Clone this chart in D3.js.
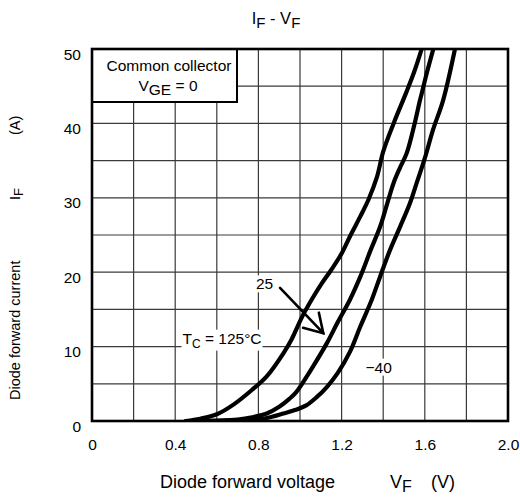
<!DOCTYPE html>
<html><head><meta charset="utf-8">
<script src="https://cdn.jsdelivr.net/npm/d3@7/dist/d3.min.js"></script>
<style>
body{margin:0;background:#fff}
svg{display:block}
text{font-family:Arial,"Liberation Sans",sans-serif;fill:#000}
</style>
</head><body>
<svg id="c" width="520" height="501"></svg>
<script>
// ---- data ----
const xTickValues = [0, 0.4, 0.8, 1.2, 1.6, 2.0];
const xTickLabels = ["0", "0.4", "0.8", "1.2", "1.6", "2.0"];
const yTickValues = [0, 10, 20, 30, 40, 50];
const yTickLabels = ["0", "10", "20", "30", "40", "50"];
const xGridValues = [0.2, 0.4, 0.6, 0.8, 1.0, 1.2, 1.4, 1.6, 1.8];
const yGridValues = [5, 10, 15, 20, 25, 30, 35, 40, 45];

const seriesNames = ["125", "25", "-40"];
const vf125 = [0.45, 0.52, 0.60, 0.68, 0.77, 0.84, 0.92, 0.96, 1.01, 1.06, 1.10, 1.15, 1.20, 1.24, 1.29, 1.33, 1.37, 1.40, 1.45, 1.51, 1.55, 1.585];
const if125 = [0.0, 0.3, 0.9, 2.2, 4.2, 6.0, 9.1, 11.0, 14.0, 16.5, 18.3, 20.3, 22.5, 24.8, 27.5, 29.8, 32.8, 36.2, 40.0, 44.1, 47.0, 50];
const vf25 = [0.50, 0.60, 0.70, 0.77, 0.84, 0.90, 0.95, 0.98, 1.01, 1.06, 1.13, 1.18, 1.24, 1.29, 1.34, 1.385, 1.42, 1.45, 1.48, 1.513, 1.553, 1.575, 1.585, 1.609, 1.641];
const if25 = [0.0, 0.05, 0.2, 0.5, 1.0, 1.9, 3.0, 3.8, 5.0, 7.2, 10.5, 13.2, 16.3, 19.4, 23.0, 26.1, 29.3, 32.0, 34.0, 36.0, 40.2, 42.9, 44.0, 46.7, 50];
const vfm40 = [0.55, 0.65, 0.75, 0.84, 0.92, 0.98, 1.03, 1.08, 1.13, 1.18, 1.24, 1.29, 1.345, 1.385, 1.433, 1.481, 1.529, 1.561, 1.601, 1.639, 1.688, 1.745];
const ifm40 = [0.0, 0.05, 0.15, 0.4, 1.0, 1.5, 2.1, 3.2, 4.6, 6.4, 9.3, 12.7, 16.3, 19.4, 23.0, 26.1, 29.3, 32.0, 35.4, 39.1, 43.1, 50];

// annotations (data units)
const arrowFrom = [0.904, 17.9];
const arrowTo = [1.112, 11.8];
const label25 = [0.788, 17.7];
const label125 = [0.435, 10.4];
const labelM40 = [1.315, 6.5];

// ---- layout ----
const svg = d3.select("#c");
const x = d3.scaleLinear().domain([0, 2]).range([92, 508]);
const y = d3.scaleLinear().domain([0, 50]).range([421, 49]);

svg.append("defs").append("clipPath").attr("id", "clip")
  .append("rect").attr("x", x(0)).attr("y", y(50)).attr("width", x(2) - x(0)).attr("height", y(0) - y(50));

// grid
const grid = svg.append("g").attr("stroke", "#3a3a3a").attr("stroke-width", 1.2);
grid.selectAll(".vg").data(xGridValues).join("line")
  .attr("x1", d => x(d)).attr("x2", d => x(d)).attr("y1", y(0)).attr("y2", y(50));
grid.selectAll(".hg").data(yGridValues).join("line")
  .attr("x1", x(0)).attr("x2", x(2)).attr("y1", d => y(d)).attr("y2", d => y(d));

// axes tick labels via d3 axes (lines hidden)
const xAxis = d3.axisBottom(x).tickValues(xTickValues).tickFormat((d, i) => xTickLabels[i]).tickSize(0).tickPadding(0);
const gx = svg.append("g").attr("transform", `translate(0,${y(0)})`).call(xAxis);
gx.select(".domain").remove();
gx.selectAll("text").attr("font-size", 15.5).attr("font-family", "Arial, 'Liberation Sans', sans-serif").attr("dy", "1.9em").attr("fill", "#000");

const yAxis = d3.axisLeft(y).tickValues(yTickValues).tickFormat((d, i) => yTickLabels[i]).tickSize(0).tickPadding(11);
const gy = svg.append("g").attr("transform", `translate(${x(0)},0)`).call(yAxis);
gy.select(".domain").remove();
gy.selectAll("text").attr("font-size", 15.5).attr("font-family", "Arial, 'Liberation Sans', sans-serif").attr("dy", "0.65em").attr("fill", "#000");

// curves
const line = d3.line().x(d => x(d[0])).y(d => y(d[1])).curve(d3.curveCatmullRom.alpha(0.5));
const series = [
  vf125.map((v, i) => [v, if125[i]]),
  vf25.map((v, i) => [v, if25[i]]),
  vfm40.map((v, i) => [v, ifm40[i]])
];
svg.append("g").attr("clip-path", "url(#clip)")
  .selectAll("path").data(series).join("path")
  .attr("d", line).attr("fill", "none").attr("stroke", "#000")
  .attr("stroke-width", 4.2).attr("stroke-linejoin", "round").attr("stroke-linecap", "round");

// legend box
const lg = svg.append("g");
lg.append("rect").attr("x", x(0)).attr("y", y(50)).attr("width", 145).attr("height", 53)
  .attr("fill", "#fff").attr("stroke", "#000").attr("stroke-width", 2);
lg.append("text").attr("x", x(0) + 77).attr("y", y(50) + 22).attr("text-anchor", "middle")
  .attr("font-size", 15.5).text("Common collector");
const t2 = lg.append("text").attr("x", x(0) + 76).attr("y", y(50) + 42).attr("text-anchor", "middle").attr("font-size", 15.5);
t2.append("tspan").text("V");
t2.append("tspan").attr("dy", 4).attr("font-size", 15.5).text("GE");
t2.append("tspan").attr("dy", -4).text(" = 0");

// frame
svg.append("rect").attr("x", x(0)).attr("y", y(50)).attr("width", x(2) - x(0)).attr("height", y(0) - y(50))
  .attr("fill", "none").attr("stroke", "#000").attr("stroke-width", 2.6);

// annotation labels with white backgrounds
function bgLabel(pos, build) {
  const g = svg.append("g");
  const t = g.append("text").attr("x", x(pos[0])).attr("y", y(pos[1])).attr("font-size", 15.5);
  build(t);
  const b = t.node().getBBox();
  g.insert("rect", "text").attr("x", b.x - 1).attr("y", b.y).attr("width", b.width + 2).attr("height", b.height).attr("fill", "#fff");
}
bgLabel(label25, t => t.text("25"));
bgLabel(label125, t => {
  t.append("tspan").text("T");
  t.append("tspan").attr("dy", 4).attr("font-size", 12).text("C");
  t.append("tspan").attr("dy", -4).text(" = 125\u00B0C");
});
bgLabel(labelM40, t => t.text("\u221240"));

// arrow
const ax1 = x(arrowFrom[0]), ay1 = y(arrowFrom[1]), ax2 = x(arrowTo[0]), ay2 = y(arrowTo[1]);
const ang = Math.atan2(ay2 - ay1, ax2 - ax1);
const hl = 21, ha = 0.55;
const ag = svg.append("g").attr("stroke", "#000").attr("stroke-width", 2.6).attr("fill", "none").attr("stroke-linecap", "round");
ag.append("line").attr("x1", ax1).attr("y1", ay1).attr("x2", ax2).attr("y2", ay2);
ag.append("path").attr("d", `M${ax2 - hl * Math.cos(ang - ha)},${ay2 - hl * Math.sin(ang - ha)}L${ax2},${ay2}L${ax2 - hl * Math.cos(ang + ha)},${ay2 - hl * Math.sin(ang + ha)}`);

// title
const title = svg.append("text").attr("x", 276).attr("y", 24).attr("text-anchor", "middle").attr("font-size", 16.5);
title.append("tspan").text("I");
title.append("tspan").attr("dy", 4).attr("font-size", 15).text("F");
title.append("tspan").attr("dy", -4).text(" - V");
title.append("tspan").attr("dy", 4).attr("font-size", 15).text("F");

// x axis title
const xt = svg.append("text").attr("x", 160).attr("y", 488).attr("font-size", 18);
xt.append("tspan").text("Diode forward voltage");
xt.append("tspan").attr("x", 390).text("V");
xt.append("tspan").attr("dy", 4).attr("font-size", 16).text("F");
xt.append("tspan").attr("x", 431).attr("dy", -4).text("(V)");

// y axis title
const yt = svg.append("text").attr("transform", "translate(20,400) rotate(-90)").attr("font-size", 14.5);
yt.append("tspan").attr("x", 0).text("Diode forward current");
yt.append("tspan").attr("x", 200).text("I");
yt.append("tspan").attr("dy", 3).attr("font-size", 13).text("F");
yt.append("tspan").attr("x", 265).attr("dy", -3).text("(A)");
</script>
</body></html>
